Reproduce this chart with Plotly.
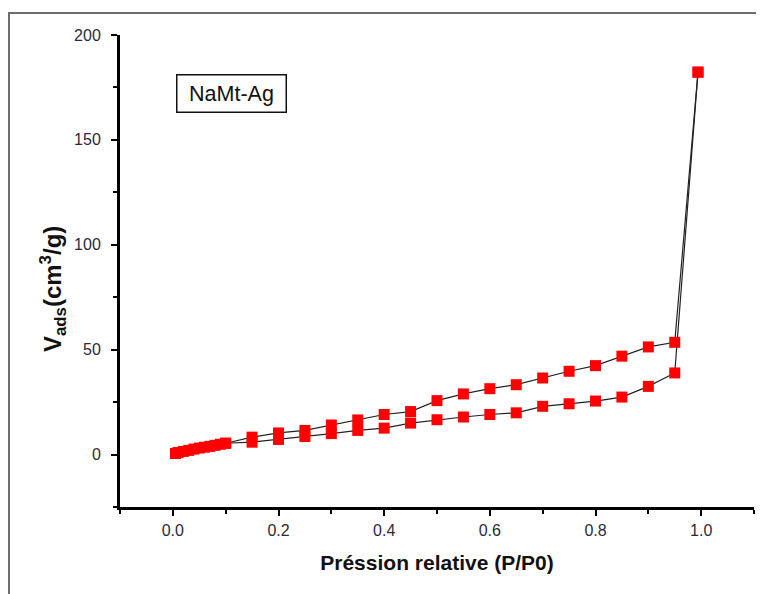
import plotly.graph_objects as go

# Adsorption branch (lower) up to P/P0 ~ 1
ads_p = [0.005, 0.01, 0.02, 0.03, 0.04, 0.05, 0.06, 0.07, 0.08, 0.09, 0.10,
         0.15, 0.20, 0.25, 0.30, 0.35, 0.40, 0.45, 0.50, 0.55, 0.60, 0.65,
         0.70, 0.75, 0.80, 0.85, 0.90, 0.95, 0.994]
ads_v = [0.5, 1.0, 1.5, 2.0, 2.6, 3.1, 3.5, 3.9, 4.4, 4.9, 5.4,
         5.9, 7.2, 8.6, 10.0, 11.5, 12.6, 15.0, 16.6, 17.9, 19.1, 19.9,
         23.0, 24.2, 25.5, 27.4, 32.5, 38.9, 182.3]

# Desorption branch (upper) from P/P0 ~ 1 down
des_p = [0.994, 0.95, 0.90, 0.85, 0.80, 0.75, 0.70, 0.65, 0.60, 0.55, 0.50,
         0.45, 0.40, 0.35, 0.30, 0.25, 0.20, 0.15, 0.10]
des_v = [182.3, 53.5, 51.3, 46.9, 42.4, 39.7, 36.5, 33.3, 31.4, 28.9, 25.7,
         20.5, 19.1, 16.5, 14.1, 11.5, 10.3, 8.3, 5.4]

x_ticks = [0.0, 0.2, 0.4, 0.6, 0.8, 1.0]
x_tick_text = ["0.0", "0.2", "0.4", "0.6", "0.8", "1.0"]
y_ticks = [0, 50, 100, 150, 200]
y_tick_text = ["0", "50", "100", "150", "200"]

marker = dict(symbol="square", size=11, color="#FF0000", line=dict(width=0))
line = dict(color="#222222", width=1.2)

fig = go.Figure()
fig.add_trace(go.Scatter(x=ads_p, y=ads_v, mode="lines+markers", marker=marker,
                         line=line, showlegend=False, name="Adsorption"))
fig.add_trace(go.Scatter(x=des_p, y=des_v, mode="lines+markers", marker=marker,
                         line=line, showlegend=False, name="Désorption"))

# page offset introduced by the default body margin
OFF = 8
W, H = 764 - OFF, 594 - OFF
PL, PR, PT, PB = 120, 754, 35, 507   # plot area in page pixels
L, R, T, B = PL - OFF, 764 - PR, PT - OFF, 594 - PB
pw, ph = PR - PL, PB - PT

def px2paper_x(px):
    return (px - PL) / pw

def px2paper_y(py):
    return (PB - py) / ph

# outer grey frame (left and top edges, continuing past the window)
fig.add_shape(type="path", xref="paper", yref="paper",
              path=f"M {px2paper_x(9)} {px2paper_y(610)} L {px2paper_x(9)} {px2paper_y(13)} L {px2paper_x(780)} {px2paper_y(13)}",
              line=dict(color="#6e6e6e", width=2))

fig.add_annotation(text="NaMt-Ag", xref="paper", yref="paper",
                   x=px2paper_x(231), y=px2paper_y(93), xanchor="center", yanchor="middle",
                   showarrow=False, font=dict(family="Liberation Sans, Arial", size=21.5, color="#111"),
                   width=102, height=30, borderpad=3,
                   bordercolor="#111", borderwidth=1.5, bgcolor="white")

# y-axis title (placed as rotated text to match its off-centre position)
fig.add_annotation(text="<b>V<sub>ads</sub>(cm<sup>3</sup>/g)</b>", xref="paper", yref="paper",
                   x=px2paper_x(53), y=px2paper_y(289), xanchor="center", yanchor="middle",
                   textangle=-90, showarrow=False,
                   font=dict(family="Liberation Sans, Arial", size=24, color="#111"))

axis_common = dict(showline=True, linecolor="black", linewidth=3, ticks="outside",
                   ticklen=6, tickwidth=2, tickcolor="black", showgrid=False, zeroline=False,
                   tickfont=dict(family="Liberation Sans, Arial", size=16, color="#2a2a3a"))

fig.update_xaxes(range=[-0.1, 1.1], tickvals=x_ticks, ticktext=x_tick_text,
                 minor=dict(ticks="outside", ticklen=4, tickwidth=2, tickcolor="black", dtick=0.1, tick0=0),
                 title=dict(text="<b>Préssion relative (P/P0)</b>", standoff=18,
                            font=dict(family="Liberation Sans, Arial", size=21, color="#111")),
                 ticklabelstandoff=1, **axis_common)
fig.update_yaxes(range=[-25, 200], tickvals=y_ticks, ticktext=y_tick_text,
                 minor=dict(ticks="outside", ticklen=4, tickwidth=2, tickcolor="black", dtick=25, tick0=0),
                 ticklabelstandoff=7, **axis_common)

fig.update_layout(width=W, height=H, margin=dict(l=L, r=R, t=T, b=B),
                  plot_bgcolor="white", paper_bgcolor="white")

fig.write_html("out.html")
